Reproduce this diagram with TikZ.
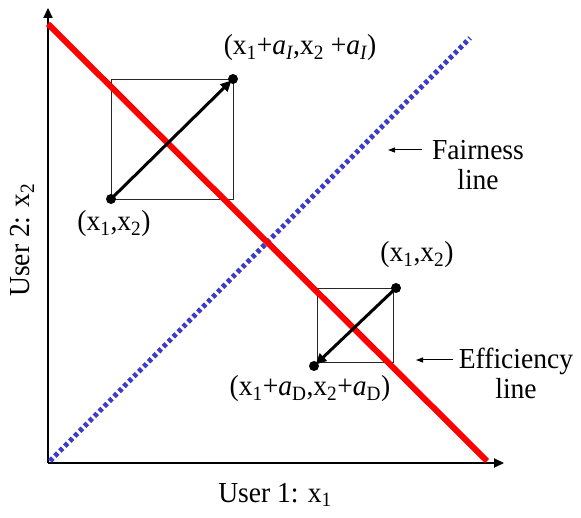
\documentclass[tikz,border=0pt]{standalone}
\usepackage{fontspec}
\setmainfont{Liberation Serif}[FakeStretch=0.95]
\usetikzlibrary{arrows.meta}
\definecolor{effred}{RGB}{255,0,0}
\definecolor{fairblue}{RGB}{60,60,200}
\begin{document}
\begin{tikzpicture}[x=1pt,y=-1pt,
  lbl/.style={inner sep=0pt,font=\fontsize{29}{30}\selectfont},
  axis/.style={line width=2.2pt,-{Triangle[length=10pt,width=9pt]}},
  movebox/.style={line width=0.8pt,draw=black!85},
  movearrow/.style={line width=3pt,-{Triangle[length=11pt,width=10pt]},shorten >=2pt},
  pointer/.style={line width=1pt,-{Triangle[length=7pt,width=5pt]}},
  dot/.style={circle,fill=black,inner sep=0pt,minimum size=10pt}]
\useasboundingbox (0,0) rectangle (581,518);
% axes
\coordinate (O) at (48,463);
\coordinate (ytop) at (48,8);
\coordinate (xend) at (504,463);
\draw[axis] (O) -- (ytop);
\draw[axis] (O) -- (xend);
% lines
\coordinate (e1) at (48,24);
\coordinate (e2) at (487,461);
\coordinate (f1) at (50,461);
\coordinate (f2) at (470,38);
\draw[fairblue,line width=5pt,dash pattern=on 4pt off 3pt] (f1) -- (f2);
% boxes
\draw[movebox] (111,79) rectangle (233,199);
\draw[movebox] (317,288) rectangle (393,362);
\draw[effred,line width=6pt] (e1) -- (e2);
% dots and arrows
\node[dot] (p1) at (111,199) {};
\node[dot] (q1) at (233,79) {};
\node[dot] (p2) at (396,288) {};
\node[dot] (q2) at (314,366) {};
\draw[movearrow] (p1.center) -- (q1.center);
\draw[movearrow] (p2.center) -- (q2.center);
% labels
\node[lbl] (l1) at (300,48) {(x\textsubscript{1}+\textit{a\textsubscript{I}},x\textsubscript{2} +\textit{a\textsubscript{I}})};
\node[lbl] (l2) at (114,224) {(x\textsubscript{1},x\textsubscript{2})};
\node[lbl] (l3) at (417,255) {(x\textsubscript{1},x\textsubscript{2})};
\node[lbl] (l4) at (310,389) {(x\textsubscript{1}+\textit{a}\textsubscript{D},x\textsubscript{2}+\textit{a}\textsubscript{D})};
\node[lbl,align=center] (fair) at (478,165) {Fairness\\line};
\node[lbl,align=center] (eff) at (516,373) {Efficiency\\line};
\coordinate (fa) at (422,150);
\coordinate (fb) at (388,150);
\coordinate (ea) at (453,360);
\coordinate (eb) at (416,360);
\draw[pointer] (fa) -- (fb);
\draw[pointer] (ea) -- (eb);
\node[lbl,rotate=90] (yl) at (22,240) {User 2: x\textsubscript{2}};
\node[lbl] (xl) at (275,495) {User 1: x\textsubscript{1}};
\end{tikzpicture}
\end{document}
